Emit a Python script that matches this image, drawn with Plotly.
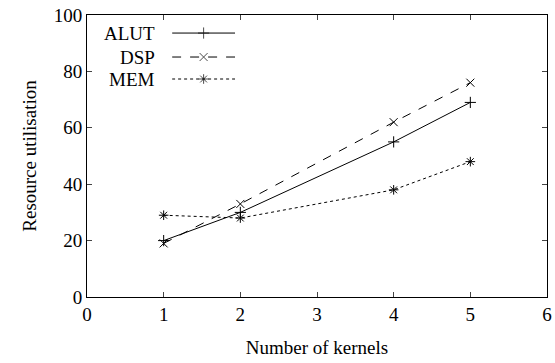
import plotly.graph_objects as go

kernels = [1, 2, 4, 5]
alut = [20, 30, 55, 69]
dsp = [19, 33, 62, 76]
mem = [29, 28, 38, 48]
series_names = ["ALUT", "DSP", "MEM"]
x_ticks = [0, 1, 2, 3, 4, 5, 6]
y_ticks = [0, 20, 40, 60, 80, 100]

styles = {
    "ALUT": dict(dash="solid", symbol="cross-thin"),
    "DSP": dict(dash="dash", symbol="x-thin"),
    "MEM": dict(dash="dot", symbol="asterisk"),
}
values = {"ALUT": alut, "DSP": dsp, "MEM": mem}

FONT = "Liberation Serif"
FS = 19
fig = go.Figure()
for name in series_names:
    st = styles[name]
    fig.add_trace(go.Scatter(
        x=kernels, y=values[name], name=name, mode="lines+markers",
        line=dict(color="black", width=1, dash=st["dash"]),
        marker=dict(symbol=st["symbol"], size=8, color="black",
                    line=dict(color="black", width=1)),
        showlegend=False,
    ))

# manual gnuplot-style legend (text right, sample to the right)
legend_y = [0.936, 0.851, 0.773]
for name, ly in zip(series_names, legend_y):
    st = styles[name]
    fig.add_trace(go.Scatter(
        x=[0.0, 0.5, 1.0], y=[ly, ly, ly], xaxis="x2", yaxis="y2",
        mode="lines+markers", showlegend=False, hoverinfo="skip",
        line=dict(color="black", width=1, dash=st["dash"]),
        marker=dict(symbol=st["symbol"], size=[0, 8, 0], color="black",
                    line=dict(color="black", width=1)),
    ))
    fig.add_annotation(
        text=name, xref="paper", yref="paper", x=0.152, y=ly,
        xanchor="right", yanchor="middle", showarrow=False,
        font=dict(family=FONT, size=FS, color="black"),
    )

fig.update_layout(
    width=555, height=363,
    margin=dict(l=87, r=8, t=15, b=66, autoexpand=False),
    paper_bgcolor="white", plot_bgcolor="white",
    font=dict(family=FONT, size=FS, color="black"),
    xaxis=dict(range=[-0.0001, 6.0001], tickvals=x_ticks, ticks="inside", ticklen=5,
               showline=True, linecolor="black", linewidth=1, mirror="allticks",
               showgrid=False, zeroline=False, automargin=False,
               title=dict(text="Number of kernels", standoff=16,
                          font=dict(family=FONT, size=FS))),
    yaxis=dict(range=[-0.001, 100.001], tickvals=y_ticks, ticks="inside", ticklen=5,
               ticksuffix="\u00a0\u00a0",
               showline=True, linecolor="black", linewidth=1, mirror="allticks",
               showgrid=False, zeroline=False, automargin=False,
               title=dict(text="Resource utilisation", standoff=12,
                          font=dict(family=FONT, size=FS))),
    xaxis2=dict(domain=[0.185, 0.322], range=[0, 1],
                visible=False, anchor="y2"),
    yaxis2=dict(domain=[0.74, 0.97], range=[0.74, 0.97],
                visible=False, anchor="x2"),
)

fig.write_html(
    "out.html",
    config={"displayModeBar": False},
    post_script="document.body.style.margin='0';document.body.style.overflow='hidden';",
)
